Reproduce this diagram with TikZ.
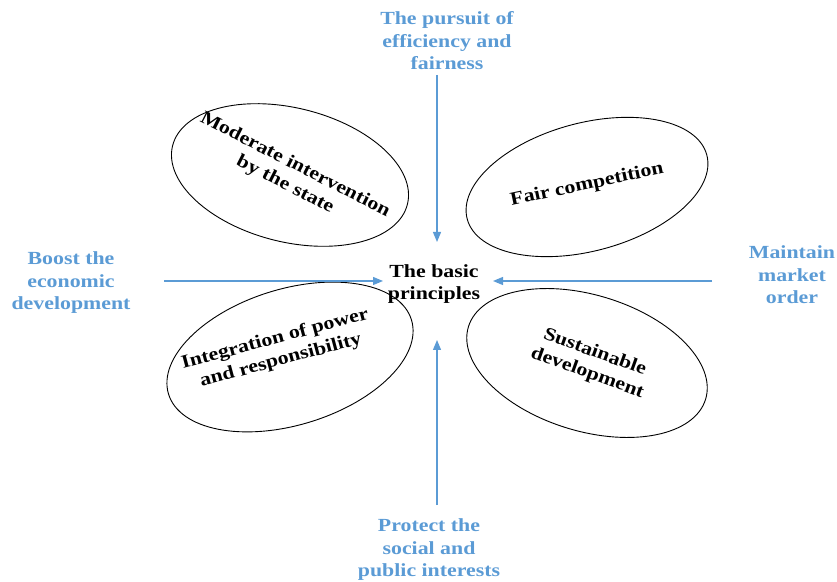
\documentclass[tikz,border=0pt]{standalone}
\usepackage{fontspec}
\setmainfont{Liberation Serif}[FakeStretch=1.18]
\usetikzlibrary{shapes.geometric,arrows.meta}
\definecolor{lblue}{HTML}{5B9BD5}
\begin{document}
\begin{tikzpicture}[x=1pt,y=1pt,
  ell/.style={draw=black,line width=0.9pt,ellipse,inner sep=0pt},
  etext/.style={font=\fontsize{18.5}{22}\selectfont\bfseries,align=center,text=black,inner sep=0pt},
  lbl/.style={font=\fontsize{18.5}{22.5}\selectfont\bfseries,align=center,text=lblue,inner sep=0pt},
  arr/.style={draw=lblue,line width=1.2pt,-{Triangle[length=10pt,width=8pt]}}]
\path[use as bounding box] (0,0) rectangle (837,581);
% ellipses
\node[ell,minimum width=242pt,minimum height=134pt,rotate=-14] (e1) at (290,406) {};
\node[ell,minimum width=248pt,minimum height=128pt,rotate=15] (e2) at (587,394) {};
\node[ell,minimum width=254pt,minimum height=136pt,rotate=17] (e3) at (290,224) {};
\node[ell,minimum width=248pt,minimum height=136pt,rotate=-17] (e4) at (587,218) {};
% ellipse texts
\node[etext,rotate=-27] (t1) at (e1.center) {Moderate intervention\\by the state};
\node[etext,rotate=12] (t2) at (587,396) {Fair competition};
\node[etext,rotate=15] (t3) at (278,231) {Integration of power\\and responsibility};
\node[etext,rotate=-20] (t4) at (591,218) {Sustainable\\development};
% centre
\node[etext] (c) at (434,297) {The basic\\principles};
% labels
\node[lbl] (top) at (447,540) {The pursuit of\\efficiency and\\fairness};
\node[lbl] (left) at (71,298) {Boost the\\economic\\development};
\node[lbl] (right) at (792,306) {Maintain\\market\\order};
\node[lbl] (bot) at (429,31) {Protect the\\social and\\public interests};
% arrow end points
\coordinate (ts) at (437,506);
\coordinate (te) at (437,339);
\coordinate (bs) at (437,76);
\coordinate (be) at (437,241);
\coordinate (ls) at (164,300);
\coordinate (le) at (383,300);
\coordinate (rs) at (712,300);
\coordinate (re) at (493,300);
\draw[arr] (ts) -- (te);
\draw[arr] (bs) -- (be);
\draw[arr] (ls) -- (le);
\draw[arr] (rs) -- (re);
\end{tikzpicture}
\end{document}
